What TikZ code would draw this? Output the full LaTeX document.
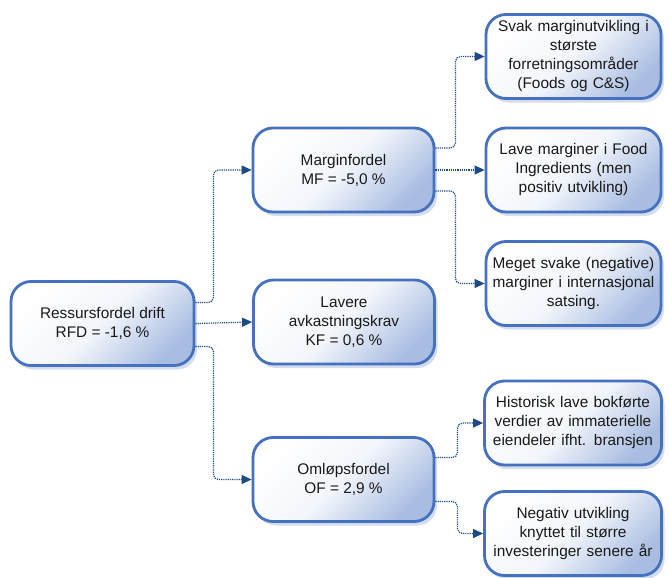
\documentclass[tikz,border=0pt]{standalone}
\usepackage{fontspec}
\setmainfont{Liberation Sans}
\usetikzlibrary{arrows.meta,shadows}

\definecolor{boxline}{HTML}{4671BF}
\definecolor{boxfill}{HTML}{A9BDE2}
\definecolor{boxshadow}{HTML}{C9D4E8}
\definecolor{linkcol}{HTML}{1B4A86}

\tikzset{
    box/.style={draw=boxline, line width=2.8pt, rounded corners=20pt,
        top color=white, bottom color=boxfill, middle color=white!85!boxfill, shading angle=45,
        minimum height=84pt, align=center, text=black!90,
        font=\fontsize{15.4}{19}\selectfont,
        drop shadow={shadow xshift=3pt, shadow yshift=-4pt, fill=boxshadow, opacity=0.8}},
    link/.style={draw=linkcol, line width=1.2pt, densely dotted, rounded corners=5pt,
        -{Triangle[length=10pt,width=9pt]}}
}

\begin{document}
\begin{tikzpicture}[x=1pt, y=1pt]
        \useasboundingbox (0,0) rectangle (669,-578);

        % Boxes
        \node[box, minimum width=183pt] (rfd) at (102.5,-323.5) {Ressursfordel drift\\RFD = -1,6 \%};

        \node[box, minimum width=181pt] (mf) at (343.5,-170) {Marginfordel\\MF = -5,0 \%};
        \node[box, minimum width=181pt] (kf) at (344,-322) {Lavere\\avkastningskrav\\KF = 0,6 \%};
        \node[box, minimum width=181pt] (of) at (343.5,-479.5) {Omløpsfordel\\OF = 2,9 \%};

        \node[box, minimum width=175pt, text width=165pt] (m1) at (573.5,-56.5) {Svak marginutvikling i\\største\\forretningsområder\\(Foods og C\&S)};
        \node[box, minimum width=175pt, text width=165pt] (m2) at (573.5,-170) {Lave marginer i Food\\Ingredients (men\\positiv utvikling)};
        \node[box, minimum width=175pt, text width=165pt] (m3) at (573.5,-283.5) {Meget svake (negative)\\marginer i internasjonal\\satsing.};

        \node[box, minimum width=177pt, text width=167pt] (o1) at (573,-423) {Historisk lave bokførte\\verdier av immaterielle\\eiendeler ifht. bransjen};
        \node[box, minimum width=177pt, text width=167pt] (o2) at (573,-533.5) {Negativ utvikling\\knyttet til større\\investeringer senere år};

        % Connectors
        \draw[link] ([yshift=21pt]rfd.east) -- ++(18,0) |- (mf.west);
        \draw[link] (rfd.east) -- (kf.west);
        \draw[link] ([yshift=-23pt]rfd.east) -- ++(18,0) |- (of.west);

        \draw[link] ([yshift=22pt]mf.east) -- ++(20,0) |- (m1.west);
        \draw[link] (mf.east) -- (m2.west);
        \draw[link] ([yshift=-21pt]mf.east) -- ++(20,0) |- (m3.west);

        \draw[link] ([yshift=22pt]of.east) -- ++(22,0) |- (o1.west);
        \draw[link] ([yshift=-22pt]of.east) -- ++(22,0) |- (o2.west);
\end{tikzpicture}
\end{document}
